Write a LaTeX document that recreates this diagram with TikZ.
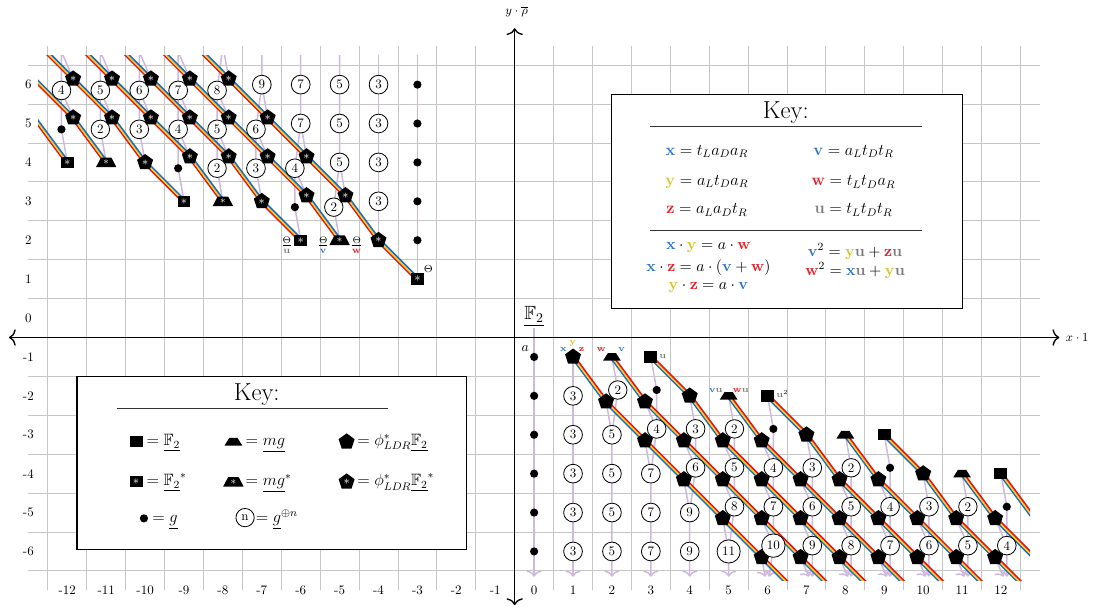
\RequirePackage{fix-cm}
\documentclass[tikz,border=0pt]{standalone}
\usepackage{amsmath,amssymb}
\usetikzlibrary{shapes.geometric,arrows.meta}
\definecolor{cB}{RGB}{45,115,200}
\definecolor{cY}{RGB}{212,196,40}
\definecolor{cR}{RGB}{232,28,36}
\definecolor{cU}{RGB}{125,125,125}
\definecolor{lavc}{RGB}{206,184,222}
\definecolor{gridc}{RGB}{198,198,198}
\definecolor{sB}{RGB}{30,105,200}
\definecolor{sY}{RGB}{245,212,20}
\definecolor{sR}{RGB}{230,20,25}
\pgfdeclarelayer{gridl}
\pgfdeclarelayer{lavl}
\pgfdeclarelayer{rbl}
\pgfsetlayers{gridl,lavl,rbl,main}
\newcommand{\kx}{\textcolor{cB}{\mathbf{x}}}
\newcommand{\ky}{\textcolor{cY}{\mathbf{y}}}
\newcommand{\kz}{\textcolor{cR}{\mathbf{z}}}
\newcommand{\kv}{\textcolor{cB}{\mathbf{v}}}
\newcommand{\kw}{\textcolor{cR}{\mathbf{w}}}
\newcommand{\ku}{\textcolor{cU}{\mathbf{u}}}
\tikzset{
 sqr/.style={rectangle,fill=black,minimum width=9.5pt,minimum height=8.3pt,inner sep=0pt},
 sqa/.style={sqr,text=white,font=\fontsize{9}{9}\selectfont},
 trp/.style={trapezium,trapezium stretches=true,trapezium left angle=60,trapezium right angle=60,fill=black,minimum width=13pt,minimum height=5.5pt,inner sep=0.6pt},
 trpa/.style={trp,minimum width=15pt,minimum height=7pt,text=white,font=\fontsize{7.5}{7.5}\selectfont},
 pent/.style={regular polygon,regular polygon sides=5,fill=black,minimum size=12.3pt,inner sep=0pt},
 penta/.style={pent,text=white,font=\fontsize{8.5}{8.5}\selectfont},
 dotn/.style={circle,fill=black,minimum size=6pt,inner sep=0pt},
 cnum/.style={circle,draw=black,fill=white,line width=0.6pt,minimum size=13.4pt,inner sep=2pt,font=\fontsize{9.5}{9.5}\selectfont},
 lav/.style={draw=lavc,line width=1.1pt,line join=round},
 lava/.style={lav,-{Computer Modern Rightarrow[length=4.5pt,width=11pt]}},
 rbline/.style={line width=1.15pt,line join=round},
 lbl/.style={inner sep=0pt,font=\fontsize{6.5}{7}\selectfont},
 tick/.style={inner sep=0pt,font=\fontsize{9.5}{9.5}\selectfont},
 keyf/.style={inner sep=0pt,font=\fontsize{12}{14}\selectfont},
 keyg/.style={inner sep=0pt,font=\fontsize{11.5}{13}\selectfont},
 keyt/.style={inner sep=0pt,font=\fontsize{18}{20}\selectfont},
 rulel/.style={line width=0.7pt,black!80},
}
\newcommand{\rainTL}[1]{%
 \draw[rbline,draw=sR,transform canvas={shift={(-0.8pt,-0.8pt)}}] #1;
 \draw[rbline,draw=sY] #1;
 \draw[rbline,draw=sB,transform canvas={shift={(0.8pt,0.8pt)}}] #1;}
\newcommand{\rainBR}[1]{%
 \draw[rbline,draw=sB,transform canvas={shift={(-0.8pt,-0.8pt)}}] #1;
 \draw[rbline,draw=sY] #1;
 \draw[rbline,draw=sR,transform canvas={shift={(0.8pt,0.8pt)}}] #1;}
\newcommand{\tlpc}[3]{\node[cnum] (tlm_#1_#2) at (-#1-0.15,#2-0.15) {#3}; \node[penta] (tlp_#1_#2) at (-#1+0.15,#2+0.15) {$\ast$};}
\newcommand{\tlpd}[2]{\node[dotn] (tlm_#1_#2) at (-#1-0.15,#2-0.15) {}; \node[penta] (tlp_#1_#2) at (-#1+0.15,#2+0.15) {$\ast$};}
\newcommand{\brpc}[3]{\node[pent] (brp_#1_#2) at (#1-0.15,-#2-0.15) {}; \node[cnum] (brm_#1_#2) at (#1+0.15,-#2+0.15) {#3};}
\newcommand{\brpd}[2]{\node[pent] (brp_#1_#2) at (#1-0.15,-#2-0.15) {}; \node[dotn] (brm_#1_#2) at (#1+0.15,-#2+0.15) {};}
\begin{document}
\begin{tikzpicture}[x=1cm,y=1cm]
\useasboundingbox (-13.73,-7.43) rectangle (14.52,8.175);
% grid
\begin{pgfonlayer}{gridl}
\foreach \i in {-12,...,13} \draw[gridc,line width=0.6pt] (\i-0.5,-7) -- (\i-0.5,7);
\foreach \j in {-6,...,7} \draw[gridc,line width=0.6pt] (-13,\j-0.5) -- (13,\j-0.5);
\end{pgfonlayer}
% key boxes
\draw[line width=0.8pt,fill=white] (2,0.25) rectangle (11,5.75);
\draw[line width=0.8pt,fill=white] (-11.75,-1.5) rectangle (-1.75,-5.96);
% tick labels
\foreach \i [count=\k] in {-12,...,12} \node[tick] (xt\k) at (\i,-7) {\i};
\foreach \j [count=\k] in {-6,...,6} \node[tick] (yt\k) at (-13,\j) {\j};
% axes
\coordinate (axL) at (-13.5,-0.5); \coordinate (axR) at (13.5,-0.5);
\coordinate (axB) at (-0.5,-7.38); \coordinate (axT) at (-0.5,7.45);
\draw[line width=1pt,{Computer Modern Rightarrow[length=5pt,width=12pt]}-{Computer Modern Rightarrow[length=5pt,width=12pt]}] (axL) -- (axR);
\draw[line width=1pt,{Computer Modern Rightarrow[length=5pt,width=12pt]}-{Computer Modern Rightarrow[length=5pt,width=12pt]}] (axB) -- (axT);
\node[anchor=west,inner sep=0pt,font=\fontsize{9}{9}\selectfont] (xlab) at (13.66,-0.5) {$x\cdot 1$};
\node[inner sep=0pt,font=\fontsize{9}{9}\selectfont] (ylab) at (-0.45,7.87) {$y\cdot\overline{\rho}$};
% ---------- top-left objects ----------
\node[sqa] (tlm_12_4) at (-12,4) {$\ast$};
\tlpd{12}{5}
\tlpc{12}{6}{4}
\node[trpa] (tlm_11_4) at (-11,4) {$\ast$};
\tlpc{11}{5}{2}
\tlpc{11}{6}{5}
\node[penta] (tlm_10_4) at (-10,4) {$\ast$};
\tlpc{10}{5}{3}
\tlpc{10}{6}{6}
\node[sqa] (tlm_9_3) at (-9,3) {$\ast$};
\tlpd{9}{4}
\tlpc{9}{5}{4}
\tlpc{9}{6}{7}
\node[trpa] (tlm_8_3) at (-8,3) {$\ast$};
\tlpc{8}{4}{2}
\tlpc{8}{5}{5}
\tlpc{8}{6}{8}
\node[penta] (tlm_7_3) at (-7,3) {$\ast$};
\tlpc{7}{4}{3}
\tlpc{7}{5}{6}
\node[cnum] (tlm_7_6) at (-7,6) {9};
\node[sqa] (tlm_6_2) at (-6,2) {$\ast$};
\tlpd{6}{3}
\tlpc{6}{4}{4}
\node[cnum] (tlm_6_5) at (-6,5) {7};
\node[cnum] (tlm_6_6) at (-6,6) {7};
\node[trpa] (tlm_5_2) at (-5,2) {$\ast$};
\tlpc{5}{3}{2}
\foreach \k in {4,5,6} \node[cnum] (tlm_5_\k) at (-5,\k) {5};
\node[penta] (tlm_4_2) at (-4,2) {$\ast$};
\foreach \k in {3,...,6} \node[cnum] (tlm_4_\k) at (-4,\k) {3};
\node[sqa] (tlm_3_1) at (-3,1) {$\ast$};
\foreach \k in {2,...,6} \node[dotn] (tlm_3_\k) at (-3,\k) {};
% TL labels
\node[inner sep=0pt,font=\fontsize{7.5}{7.5}\selectfont] (th) at (-2.72,1.25) {$\Theta$};
\node[inner sep=0pt,font=\fontsize{10}{10}\selectfont] (thu) at (-6.36,1.88) {$\frac{\Theta}{\ku}$};
\node[inner sep=0pt,font=\fontsize{10}{10}\selectfont] (thv) at (-5.42,1.88) {$\frac{\Theta}{\kv}$};
\node[inner sep=0pt,font=\fontsize{10}{10}\selectfont] (thw) at (-4.56,1.88) {$\frac{\Theta}{\kw}$};
% ---------- bottom-right objects ----------
\node[inner sep=1pt,font=\fontsize{14}{14}\selectfont] (F2) at (0,0.05) {$\underline{\mathbb{F}_2}$};
\foreach \k in {1,...,6} \node[dotn] (brm_0_\k) at (0,-\k) {};
\node[inner sep=0pt,font=\fontsize{10}{10}\selectfont] (alab) at (-0.23,-0.78) {$a$};
\node[pent] (brm_1_1) at (1,-1) {};
\foreach \k in {2,...,6} \node[cnum] (brm_1_\k) at (1,-\k) {3};
\node[trp] (brm_2_1) at (2,-1) {};
\brpc{2}{2}{2}
\foreach \k in {3,...,6} \node[cnum] (brm_2_\k) at (2,-\k) {5};
\node[sqr] (brm_3_1) at (3,-1) {};
\brpd{3}{2}
\brpc{3}{3}{4}
\foreach \k in {4,5,6} \node[cnum] (brm_3_\k) at (3,-\k) {7};
\node[pent] (brm_4_2) at (4,-2) {};
\brpc{4}{3}{3}
\brpc{4}{4}{6}
\node[cnum] (brm_4_5) at (4,-5) {9};
\node[cnum] (brm_4_6) at (4,-6) {9};
\node[trp] (brm_5_2) at (5,-2) {};
\brpc{5}{3}{2}
\brpc{5}{4}{5}
\brpc{5}{5}{8}
\node[cnum] (brm_5_6) at (5,-6) {11};
\node[sqr] (brm_6_2) at (6,-2) {};
\brpd{6}{3}
\brpc{6}{4}{4}
\brpc{6}{5}{7}
\brpc{6}{6}{10}
\node[pent] (brm_7_3) at (7,-3) {};
\brpc{7}{4}{3}
\brpc{7}{5}{6}
\brpc{7}{6}{9}
\node[trp] (brm_8_3) at (8,-3) {};
\brpc{8}{4}{2}
\brpc{8}{5}{5}
\brpc{8}{6}{8}
\node[sqr] (brm_9_3) at (9,-3) {};
\brpd{9}{4}
\brpc{9}{5}{4}
\brpc{9}{6}{7}
\node[pent] (brm_10_4) at (10,-4) {};
\brpc{10}{5}{3}
\brpc{10}{6}{6}
\node[trp] (brm_11_4) at (11,-4) {};
\brpc{11}{5}{2}
\brpc{11}{6}{5}
\node[sqr] (brm_12_4) at (12,-4) {};
\brpd{12}{5}
\brpc{12}{6}{4}
% BR labels
\node[lbl] (lx) at (0.75,-0.81) {$\kx$};
\node[lbl] (ly) at (0.99,-0.64) {$\ky$};
\node[lbl] (lz) at (1.22,-0.81) {$\kz$};
\node[lbl] (lw) at (1.73,-0.81) {$\kw$};
\node[lbl] (lv) at (2.25,-0.81) {$\kv$};
\node[lbl] (lu) at (3.31,-0.98) {$\ku$};
\node[lbl] (lvu) at (4.67,-1.87) {$\kv\ku$};
\node[lbl] (lwu) at (5.31,-1.87) {$\kw\ku$};
\node[lbl] (luu) at (6.38,-1.95) {$\ku^2$};
% ---------- helper coordinates ----------
\coordinate (t12) at (-12.15,6.85); \coordinate (t11) at (-11.15,6.85);
\coordinate (t10) at (-10.15,6.85); \coordinate (t9) at (-9.15,6.85);
\coordinate (t8) at (-8,7); \coordinate (t7) at (-7,7); \coordinate (t6) at (-6,7);
\coordinate (t5) at (-5,7); \coordinate (t4) at (-4,7); \coordinate (t3) at (-3,7);
\coordinate (o2) at (-8.85,7.15); \coordinate (o3) at (-9.85,7.15);
\coordinate (o4) at (-10.85,7.15); \coordinate (o5) at (-11.85,7.15);
\coordinate (o6) at (-12.85,7.15); \coordinate (o7) at (-12.85,6.15);
\coordinate (o8) at (-12.85,5.15);
\coordinate (e0) at (6.85,-7.15); \coordinate (e1) at (7.85,-7.15);
\coordinate (e2) at (8.85,-7.15); \coordinate (e3) at (9.85,-7.15);
\coordinate (e4) at (10.85,-7.15); \coordinate (e5) at (11.85,-7.15);
\coordinate (e6) at (12.85,-7.15); \coordinate (e7) at (12.85,-6.15);
\coordinate (e8) at (12.85,-5.15);
\foreach \k in {0,...,5} \coordinate (b\k) at (\k,-6.65);
\coordinate (b6m) at (6.046,-6.65); \coordinate (b6p) at (5.938,-6.65);
\foreach \k in {7,...,12} {\coordinate (b\k m) at (\k+0.15,-6.65); \coordinate (b\k p) at (\k+0.064,-6.65);}
% ---------- lavender lines ----------
\begin{pgfonlayer}{lavl}
\begin{scope}
\clip (-12.75,-6.75) rectangle (12.75,6.75);
\draw[lav] (tlm_12_4.center) -- (tlm_12_5.center) -- (tlm_12_6.center) -- (t12) (tlp_12_5.center) -- (tlm_12_6.center) (tlp_12_6.center) -- (t12);
\draw[lav] (tlm_11_4.center) -- (tlm_11_5.center) -- (tlm_11_6.center) -- (t11) (tlp_11_5.center) -- (tlm_11_6.center) (tlp_11_6.center) -- (t11);
\draw[lav] (tlm_10_4.center) -- (tlm_10_5.center) -- (tlm_10_6.center) -- (t10) (tlp_10_5.center) -- (tlm_10_6.center) (tlp_10_6.center) -- (t10);
\draw[lav] (tlm_9_3.center) -- (tlm_9_4.center) -- (tlm_9_5.center) -- (tlm_9_6.center) -- (t9) (tlp_9_4.center) -- (tlm_9_5.center) (tlp_9_5.center) -- (tlm_9_6.center) (tlp_9_6.center) -- (t9);
\draw[lav] (tlm_8_3.center) -- (tlm_8_4.center) -- (tlm_8_5.center) -- (tlm_8_6.center) -- (t8) (tlp_8_4.center) -- (tlm_8_5.center) (tlp_8_5.center) -- (tlm_8_6.center) (tlp_8_6.center) -- (t8);
\draw[lav] (tlm_7_3.center) -- (tlm_7_4.center) -- (tlm_7_5.center) -- (tlm_7_6.center) -- (t7) (tlp_7_4.center) -- (tlm_7_5.center) (tlp_7_5.center) -- (tlm_7_6.center);
\draw[lav] (tlm_6_2.center) -- (tlm_6_3.center) -- (tlm_6_4.center) -- (tlm_6_5.center) -- (tlm_6_6.center) -- (t6) (tlp_6_3.center) -- (tlm_6_4.center) (tlp_6_4.center) -- (tlm_6_5.center);
\draw[lav] (tlm_5_2.center) -- (tlm_5_3.center) -- (tlm_5_4.center) -- (tlm_5_5.center) -- (tlm_5_6.center) -- (t5) (tlp_5_3.center) -- (tlm_5_4.center);
\draw[lav] (tlm_4_2.center) -- (tlm_4_3.center) -- (tlm_4_4.center) -- (tlm_4_5.center) -- (tlm_4_6.center) -- (t4);
\draw[lav] (tlm_3_1.center) -- (tlm_3_2.center) -- (tlm_3_3.center) -- (tlm_3_4.center) -- (tlm_3_5.center) -- (tlm_3_6.center) -- (t3);
\end{scope}
% BR
\draw[lav] (F2.south) -- (brm_0_1.center);
\draw[lava] (brm_0_1.center) -- (brm_0_2.center) -- (brm_0_3.center) -- (brm_0_4.center) -- (brm_0_5.center) -- (brm_0_6.center) -- (b0);
\draw[lava] (brm_1_1.center) -- (brm_1_2.center) -- (brm_1_3.center) -- (brm_1_4.center) -- (brm_1_5.center) -- (brm_1_6.center) -- (b1);
\draw[lava] (brm_2_1.center) -- (brm_2_2.center) -- (brm_2_3.center) -- (brm_2_4.center) -- (brm_2_5.center) -- (brm_2_6.center) -- (b2);
\draw[lav] (brp_2_2.center) -- (brm_2_3.center);
\draw[lava] (brm_3_1.center) -- (brm_3_2.center) -- (brm_3_3.center) -- (brm_3_4.center) -- (brm_3_5.center) -- (brm_3_6.center) -- (b3);
\draw[lav] (brp_3_2.center) -- (brm_3_3.center) (brp_3_3.center) -- (brm_3_4.center);
\draw[lava] (brm_4_2.center) -- (brm_4_3.center) -- (brm_4_4.center) -- (brm_4_5.center) -- (brm_4_6.center) -- (b4);
\draw[lav] (brp_4_3.center) -- (brm_4_4.center) (brp_4_4.center) -- (brm_4_5.center);
\draw[lava] (brm_5_2.center) -- (brm_5_3.center) -- (brm_5_4.center) -- (brm_5_5.center) -- (brm_5_6.center) -- (b5);
\draw[lav] (brp_5_3.center) -- (brm_5_4.center) (brp_5_4.center) -- (brm_5_5.center) (brp_5_5.center) -- (brm_5_6.center);
\draw[lava] (brm_6_2.center) -- (brm_6_3.center) -- (brm_6_4.center) -- (brm_6_5.center) -- (brm_6_6.center) -- (b6m);
\draw[lav] (brp_6_3.center) -- (brm_6_4.center) (brp_6_4.center) -- (brm_6_5.center) (brp_6_5.center) -- (brm_6_6.center);
\draw[lava] (brp_6_6.center) -- (b6p);
\draw[lava] (brm_7_3.center) -- (brm_7_4.center) -- (brm_7_5.center) -- (brm_7_6.center) -- (b7m);
\draw[lav] (brp_7_4.center) -- (brm_7_5.center) (brp_7_5.center) -- (brm_7_6.center);
\draw[lava] (brp_7_6.center) -- (b7p);
\draw[lava] (brm_8_3.center) -- (brm_8_4.center) -- (brm_8_5.center) -- (brm_8_6.center) -- (b8m);
\draw[lav] (brp_8_4.center) -- (brm_8_5.center) (brp_8_5.center) -- (brm_8_6.center);
\draw[lava] (brp_8_6.center) -- (b8p);
\draw[lava] (brm_9_3.center) -- (brm_9_4.center) -- (brm_9_5.center) -- (brm_9_6.center) -- (b9m);
\draw[lav] (brp_9_4.center) -- (brm_9_5.center) (brp_9_5.center) -- (brm_9_6.center);
\draw[lava] (brp_9_6.center) -- (b9p);
\draw[lava] (brm_10_4.center) -- (brm_10_5.center) -- (brm_10_6.center) -- (b10m);
\draw[lav] (brp_10_5.center) -- (brm_10_6.center);
\draw[lava] (brp_10_6.center) -- (b10p);
\draw[lava] (brm_11_4.center) -- (brm_11_5.center) -- (brm_11_6.center) -- (b11m);
\draw[lav] (brp_11_5.center) -- (brm_11_6.center);
\draw[lava] (brp_11_6.center) -- (b11p);
\draw[lava] (brm_12_4.center) -- (brm_12_5.center) -- (brm_12_6.center) -- (b12m);
\draw[lav] (brp_12_5.center) -- (brm_12_6.center);
\draw[lava] (brp_12_6.center) -- (b12p);
\end{pgfonlayer}
% ---------- rainbow lines ----------
\begin{pgfonlayer}{rbl}
\begin{scope}
\clip (-12.75,-6.75) rectangle (12.75,6.75);
\rainTL{(o2) -- (tlp_8_6.center) -- (tlp_7_5.center) -- (tlp_6_4.center) -- (tlp_5_3.center) -- (tlm_4_2.center) -- (tlm_3_1.center)}
\rainTL{(o3) -- (tlp_9_6.center) -- (tlp_8_5.center) -- (tlp_7_4.center) -- (tlp_6_3.center) -- (tlm_5_2.center)}
\rainTL{(o4) -- (tlp_10_6.center) -- (tlp_9_5.center) -- (tlp_8_4.center) -- (tlm_7_3.center) -- (tlm_6_2.center)}
\rainTL{(o5) -- (tlp_11_6.center) -- (tlp_10_5.center) -- (tlp_9_4.center) -- (tlm_8_3.center)}
\rainTL{(o6) -- (tlp_12_6.center) -- (tlp_11_5.center) -- (tlm_10_4.center) -- (tlm_9_3.center)}
\rainTL{(o7) -- (tlp_12_5.center) -- (tlm_11_4.center)}
\rainTL{(o8) -- (tlm_12_4.center)}
\rainBR{(brm_1_1.center) -- (brp_2_2.center) -- (brp_3_3.center) -- (brp_4_4.center) -- (brp_5_5.center) -- (brp_6_6.center) -- (e0)}
\rainBR{(brm_2_1.center) -- (brp_3_2.center) -- (brp_4_3.center) -- (brp_5_4.center) -- (brp_6_5.center) -- (brp_7_6.center) -- (e1)}
\rainBR{(brm_3_1.center) -- (brm_4_2.center) -- (brp_5_3.center) -- (brp_6_4.center) -- (brp_7_5.center) -- (brp_8_6.center) -- (e2)}
\rainBR{(brm_5_2.center) -- (brp_6_3.center) -- (brp_7_4.center) -- (brp_8_5.center) -- (brp_9_6.center) -- (e3)}
\rainBR{(brm_6_2.center) -- (brm_7_3.center) -- (brp_8_4.center) -- (brp_9_5.center) -- (brp_10_6.center) -- (e4)}
\rainBR{(brm_8_3.center) -- (brp_9_4.center) -- (brp_10_5.center) -- (brp_11_6.center) -- (e5)}
\rainBR{(brm_9_3.center) -- (brm_10_4.center) -- (brp_11_5.center) -- (brp_12_6.center) -- (e6)}
\rainBR{(brm_11_4.center) -- (brp_12_5.center) -- (e7)}
\rainBR{(brm_12_4.center) -- (e8)}
\end{scope}
\end{pgfonlayer}
% ---------- top-right key ----------
\node[keyt] (ktr) at (6.47,5.28) {Key:};
\draw[rulel] (2.98,4.92) -- (9.97,4.92);
\node[keyf] (kr1a) at (4.44,4.28) {$\kx = t_La_Da_R$};
\node[keyf] (kr1b) at (8.21,4.28) {$\kv = a_Lt_Dt_R$};
\node[keyf] (kr2a) at (4.44,3.5) {$\ky = a_Lt_Da_R$};
\node[keyf] (kr2b) at (8.21,3.5) {$\kw = t_Lt_Da_R$};
\node[keyf] (kr3a) at (4.44,2.78) {$\kz = a_La_Dt_R$};
\node[keyf] (kr3b) at (8.21,2.78) {$\ku = t_Lt_Dt_R$};
\draw[rulel] (2.98,2.26) -- (9.97,2.26);
\node[keyg] (kr4a) at (4.48,1.8) {$\kx\cdot\ky = a\cdot\kw$};
\node[keyg] (kr5a) at (4.48,1.29) {$\kx\cdot\kz = a\cdot(\kv+\kw)$};
\node[keyg] (kr6a) at (4.48,0.78) {$\ky\cdot\kz = a\cdot\kv$};
\node[keyg] (kr4b) at (8.25,1.71) {$\kv^2 = \ky\ku+\kz\ku$};
\node[keyg] (kr5b) at (8.25,1.22) {$\kw^2 = \kx\ku+\ky\ku$};
% ---------- bottom-left key ----------
\node[keyt] (kbl) at (-7.13,-1.98) {Key:};
\draw[rulel] (-10.73,-2.32) -- (-3.75,-2.32);
\node[sqr] (kq1) at (-10.23,-3.18) {};
\node[keyf,anchor=base west] (kq1t) at (-9.97,-3.285) {$=\underline{\mathbb{F}_2}$};
\node[trp] (kt1) at (-7.73,-3.18) {};
\node[keyf,anchor=base west] (kt1t) at (-7.42,-3.285) {$=\underline{mg}$};
\node[pent] (kp1) at (-4.82,-3.18) {};
\node[keyf,anchor=base west] (kp1t) at (-4.55,-3.285) {$=\phi^*_{LDR}\underline{\mathbb{F}_2}$};
\node[sqa] (kq2) at (-10.23,-4.21) {$\ast$};
\node[keyf,anchor=base west] (kq2t) at (-9.97,-4.315) {$=\underline{\mathbb{F}_2}^*$};
\node[trpa] (kt2) at (-7.73,-4.21) {$\ast$};
\node[keyf,anchor=base west] (kt2t) at (-7.42,-4.315) {$=\underline{mg}^*$};
\node[penta] (kp2) at (-4.82,-4.21) {$\ast$};
\node[keyf,anchor=base west] (kp2t) at (-4.55,-4.315) {$=\phi^*_{LDR}\underline{\mathbb{F}_2}^*$};
\node[dotn] (kd3) at (-10.03,-5.15) {};
\node[keyf,anchor=base west] (kd3t) at (-9.82,-5.255) {$=\underline{g}$};
\node[cnum] (kc3) at (-7.43,-5.13) {n};
\node[keyf,anchor=base west] (kc3t) at (-7.16,-5.255) {$=\underline{g}^{\oplus n}$};
\end{tikzpicture}
\end{document}
